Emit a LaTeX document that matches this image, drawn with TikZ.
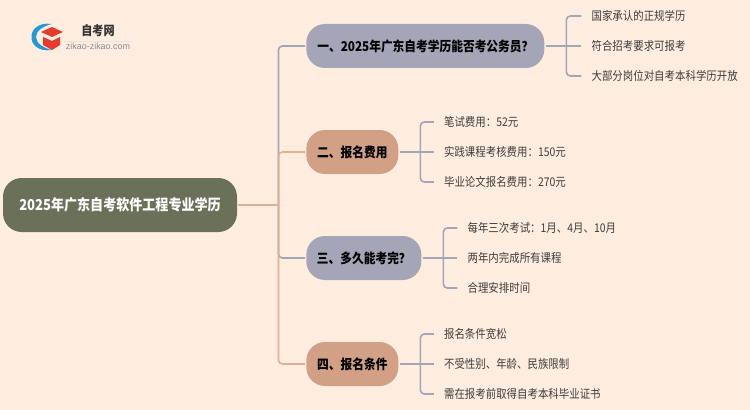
\documentclass[tikz,border=0pt]{standalone}
\usepackage{fontspec}
\usetikzlibrary{positioning}
\setmainfont{Liberation Sans}
\newfontfamily\cjkleaf[FakeStretch=0.87]{Noto Sans CJK SC}
\newcommand{\widecolon}{^^^^ff1a}
\newcommand{\widequery}{^^^^ff1f}
\definecolor{paper}{HTML}{FFEEE0}
\definecolor{slate}{HTML}{A5A5B8}
\definecolor{clay}{HTML}{D2A085}
\definecolor{clayline}{HTML}{E0AF95}
\definecolor{moss}{HTML}{6B7159}
\definecolor{leaftext}{HTML}{3C3C3C}
\definecolor{logoblue}{HTML}{1F9AD6}
\definecolor{logored}{HTML}{E8392F}
\tikzset{
	pill/.style={rounded corners=14pt,minimum height=33pt,inner sep=0pt,outer sep=1pt,font=\cjkleaf\bfseries\fontsize{10.1pt}{12pt}\selectfont,text=black},
	slatepill/.style={pill,fill=slate},
	claypill/.style={pill,fill=clay},
	leaf/.style={inner xsep=7.5pt,inner ysep=0pt,font=\cjkleaf\fontsize{9pt}{11pt}\selectfont,text=leaftext},
	slateline/.style={draw=slate,line width=1.2pt,rounded corners=3pt},
	clayline/.style={draw=clayline,line width=1.2pt,rounded corners=3pt},
}

\begin{document}
\begin{tikzpicture}[x=0.75pt,y=-0.75pt]
	\useasboundingbox (0,0) rectangle (750,410);
	\fill[paper] (0,0) rectangle (750,410);

	% logo
	\fill[logoblue] (52,24) .. controls (38,22) and (31,30) .. (31.5,37) .. controls (31,44) and (38,52) .. (52,50) .. controls (43,48) and (36,43) .. (36,37) .. controls (36,31) and (43,26) .. (52,24);
	\fill[logored] (41,32) -- (52,27) -- (63,32) -- (52,37) -- cycle;
	\fill[logored] (43,37) -- (52,41) -- (60,37) -- (60,45) -- (52,50) -- (43,45) -- cycle;
	\node[inner sep=0pt,text=black!80,font=\cjkleaf\bfseries\fontsize{9.6pt}{10pt}\selectfont](logotitle) at (98,31){自考网};
	\node[inner sep=1pt,text=black!45,font=\fontsize{6.7pt}{8pt}\selectfont,below=3pt of logotitle](logosub){zikao-zikao.com};
	\draw[black!10,line width=0.4pt] (logosub.north west) -- (logosub.north east);

	\node[rounded corners=14pt,fill=moss,text=white,minimum width=175.5pt,minimum height=40.5pt,inner sep=0pt,outer sep=1pt,font=\cjkleaf\bfseries\fontsize{11.25pt}{13pt}\selectfont](root) at (120,205){2025年广东自考软件工程专业学历};

	\node[slatepill,minimum width=178.5pt,above right=119.25pt and 50pt of root.east,anchor=west](exam){一、2025年广东自考学历能否考公务员\widequery};
	\node[claypill,minimum width=69pt,above right=39.75pt and 50pt of root.east,anchor=west](fees){二、报名费用};
	\node[slatepill,minimum width=86.25pt,below right=39.75pt and 50pt of root.east,anchor=west](duration){三、多久能考完\widequery};
	\node[claypill,minimum width=69pt,below right=119.25pt and 50pt of root.east,anchor=west](terms){四、报名条件};

	\node[leaf,right=26.75pt of exam](exam2){符合招考要求可报考};
	\node[leaf,above=22.5pt of exam2.west,anchor=west](exam1){国家承认的正规学历};
	\node[leaf,below=22.5pt of exam2.west,anchor=west](exam3){大部分岗位对自考本科学历开放};

	\node[leaf,right=25.6pt of fees](fees2){实践课程考核费用\widecolon 150元};
	\node[leaf,above=22.5pt of fees2.west,anchor=west](fees1){笔试费用\widecolon 52元};
	\node[leaf,below=22.5pt of fees2.west,anchor=west](fees3){毕业论文报名费用\widecolon 270元};

	\node[leaf,right=26pt of duration](duration2){两年内完成所有课程};
	\node[leaf,above=22.5pt of duration2.west,anchor=west](duration1){每年三次考试\widecolon 1月、4月、10月};
	\node[leaf,below=22.5pt of duration2.west,anchor=west](duration3){合理安排时间};

	\node[leaf,right=25.6pt of terms](terms2){不受性别、年龄、民族限制};
	\node[leaf,above=22.5pt of terms2.west,anchor=west](terms1){报名条件宽松};
	\node[leaf,below=22.5pt of terms2.west,anchor=west](terms3){需在报考前取得自考本科毕业证书};

	\coordinate[right=30.1pt of root.east](trunk);
	\coordinate[right=15.5pt of exam.east](examfork);
	\coordinate[right=15.5pt of fees.east](feesfork);
	\coordinate[right=15.5pt of duration.east](durationfork);
	\coordinate[right=15.5pt of terms.east](termsfork);

	\draw[slateline] (trunk) |- (exam.west);
	\draw[slateline] (trunk) |- (duration.west);
	\draw[clayline] (trunk) |- (fees.west);
	\draw[clayline] (trunk) |- (terms.west);
	\draw[clayline] (root.east) -- (trunk);

	\draw[slateline] (exam.east) -- (exam2.west);
	\draw[slateline] (examfork) |- (exam1.west);
	\draw[slateline] (examfork) |- (exam3.west);
	\draw[slateline] (fees.east) -- (fees2.west);
	\draw[slateline] (feesfork) |- (fees1.west);
	\draw[slateline] (feesfork) |- (fees3.west);
	\draw[slateline] (duration.east) -- (duration2.west);
	\draw[slateline] (durationfork) |- (duration1.west);
	\draw[slateline] (durationfork) |- (duration3.west);
	\draw[slateline] (terms.east) -- (terms2.west);
	\draw[slateline] (termsfork) |- (terms1.west);
	\draw[slateline] (termsfork) |- (terms3.west);
\end{tikzpicture}
\end{document}
